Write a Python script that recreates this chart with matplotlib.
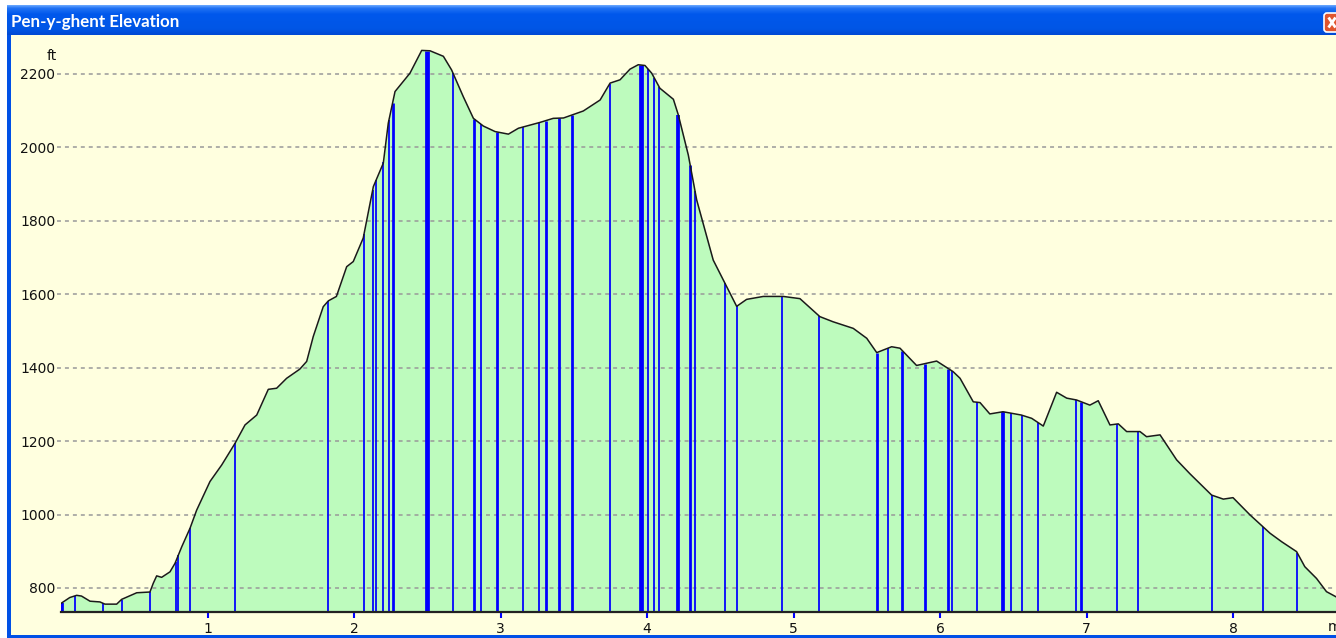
import numpy as np
import matplotlib
matplotlib.use("Agg")
import matplotlib.pyplot as plt
from matplotlib.patches import Rectangle, FancyBboxPatch
from matplotlib.colors import LinearSegmentedColormap

# ---------------- data ----------------
title = "Pen-y-ghent Elevation"
y_unit = "ft"
x_unit = "mi"

dist_mi = [0.0, 0.06, 0.107, 0.14, 0.198, 0.266, 0.30, 0.38, 0.414, 0.517, 0.607,
           0.63, 0.653, 0.687, 0.744, 0.778, 0.824, 0.881, 0.926, 1.017, 1.097,
           1.188, 1.256, 1.336, 1.415, 1.472, 1.54, 1.63, 1.677, 1.722, 1.79,
           1.825, 1.88, 1.95, 1.995, 2.063, 2.132, 2.2, 2.234, 2.28, 2.382,
           2.462, 2.519, 2.61, 2.666, 2.746, 2.815, 2.883, 2.963, 3.054, 3.122,
           3.27, 3.36, 3.43, 3.565, 3.68, 3.748, 3.816, 3.884, 3.94, 3.986,
           4.032, 4.088, 4.18, 4.214, 4.282, 4.339, 4.452, 4.532, 4.612, 4.68,
           4.794, 4.93, 5.044, 5.18, 5.27, 5.408, 5.5, 5.568, 5.67, 5.727,
           5.84, 5.977, 6.09, 6.137, 6.227, 6.273, 6.34, 6.43, 6.555, 6.626,
           6.705, 6.796, 6.865, 6.932, 7.023, 7.08, 7.16, 7.217, 7.274, 7.365,
           7.41, 7.502, 7.615, 7.706, 7.854, 7.934, 8.0, 8.116, 8.253, 8.332,
           8.434, 8.49, 8.57, 8.638, 8.703]
elev_ft = [758, 774, 780, 778, 764, 762, 756, 756, 769, 787, 789,
           813, 833, 829, 844, 867, 912, 963, 1012, 1090, 1135,
           1194, 1244, 1271, 1341, 1344, 1371, 1396, 1417, 1485, 1566,
           1582, 1594, 1675, 1689, 1753, 1893, 1957, 2066, 2152, 2202,
           2264, 2263, 2248, 2211, 2138, 2079, 2058, 2043, 2036, 2052,
           2068, 2079, 2080, 2099, 2129, 2175, 2184, 2213, 2225, 2223,
           2202, 2161, 2131, 2088, 1979, 1857, 1693, 1630, 1567, 1586,
           1594, 1594, 1588, 1539, 1525, 1507, 1480, 1441, 1457, 1453,
           1406, 1418, 1389, 1371, 1307, 1305, 1274, 1280, 1271, 1262,
           1241, 1333, 1317, 1312, 1298, 1310, 1244, 1247, 1226, 1226,
           1212, 1217, 1149, 1111, 1053, 1042, 1046, 999, 949, 926,
           899, 858, 826, 790, 776]

# waypoint markers (mile position, drawn width in pixels)
marker_mi = [0.005, 0.096, 0.289, 0.413, 0.608, 0.782, 0.802, 0.881, 1.188, 1.825,
             2.068, 2.128, 2.150, 2.201, 2.239, 2.263, 2.496, 2.674, 2.819, 2.867,
             2.974, 3.152, 3.265, 3.311, 3.401, 3.486, 3.744, 3.957, 4.010, 4.051,
             4.082, 4.214, 4.294, 4.328, 4.532, 4.614, 4.920, 5.176, 5.568, 5.647,
             5.743, 5.898, 6.057, 6.084, 6.251, 6.432, 6.487, 6.558, 6.669, 6.926,
             6.961, 7.210, 7.354, 7.857, 8.205, 8.439]
marker_px = [3, 1, 1, 1, 1, 1, 1, 1, 1, 1,
             1, 1, 1, 1, 1, 2, 4, 1, 2, 1,
             2, 1, 1, 2, 2, 2, 1, 4, 1, 1,
             1, 3, 2, 1, 1, 1, 1, 1, 2, 1,
             2, 2, 2, 1, 1, 3, 1, 1, 1, 1,
             2, 1, 1, 1, 1, 1]

y_ticks = [800, 1000, 1200, 1400, 1600, 1800, 2000, 2200]
x_ticks = [1, 2, 3, 4, 5, 6, 7, 8]

# ---------------- styling ----------------
W, H = 1336, 638
YELLOW = "#FFFFDF"
GREEN = "#BDFBBD"
BLUE = "#0000FF"
X_MAX = 8.703
Y_MIN, Y_MAX = 734.6, 2306

fig = plt.figure(figsize=(W / 100, H / 100), dpi=100)
fig.patch.set_facecolor("white")

# window frame drawn in pixel coordinates
bg = fig.add_axes([0, 0, 1, 1], zorder=0)
bg.set_xlim(0, W)
bg.set_ylim(H, 0)
bg.axis("off")
bg.add_patch(Rectangle((7, 5), W, H, facecolor="#0050E6", edgecolor="none"))
bg.add_patch(Rectangle((11, 35), W, 600, facecolor=YELLOW, edgecolor="none"))
cmap = LinearSegmentedColormap.from_list(
    "xp", [(0, "#6AA8FF"), (0.1, "#2172F4"), (0.3, "#0058EC"),
           (0.8, "#0056E6"), (1.0, "#0049D4")])
grad = np.linspace(0, 1, 64).reshape(-1, 1)
bg.imshow(grad, cmap=cmap, extent=(7, W, 35, 5), aspect="auto", zorder=1)
bg.text(11, 22, title, color="white", fontsize=12.2, fontweight="bold",
        family=["Lato", "DejaVu Sans"], va="center", ha="left", zorder=3)
bg.add_patch(FancyBboxPatch((1324, 13), 22, 19,
                            boxstyle="round,pad=0,rounding_size=3",
                            facecolor="#E0552E", edgecolor="white", lw=1.2,
                            zorder=3))
bg.plot([1328.5, 1335.5], [17.5, 27.5], color="white", lw=2.0, zorder=4,
        solid_capstyle="butt")
bg.plot([1328.5, 1335.5], [27.5, 17.5], color="white", lw=2.0, zorder=4,
        solid_capstyle="butt")

# plot area
left, right, top, bottom = 61, 1336, 35, 612
ax = fig.add_axes([left / W, 1 - bottom / H, (right - left) / W, (bottom - top) / H],
                  zorder=2)
ax.set_facecolor("none")
ax.set_xlim(0, X_MAX)
ax.set_ylim(Y_MIN, Y_MAX)

ax.fill_between(dist_mi, elev_ft, Y_MIN, color=GREEN, lw=0, zorder=1)
for yv in y_ticks:
    ax.plot([-0.025, X_MAX], [yv, yv], color="#999999", lw=1.1,
            linestyle=(0, (2.6, 2.6)), zorder=2, clip_on=False)

tops = np.interp(marker_mi, dist_mi, elev_ft)
ax.vlines(marker_mi, Y_MIN, tops, colors=BLUE,
          linewidths=[w * 0.72 + 0.55 for w in marker_px], zorder=3)
ax.plot(dist_mi, elev_ft, color="#1a1a1a", lw=1.1, zorder=4)

for s in ["left", "right", "top"]:
    ax.spines[s].set_visible(False)
ax.spines["bottom"].set_color("#222222")
ax.spines["bottom"].set_linewidth(1.6)
ax.spines["bottom"].set_zorder(5)

ax.set_yticks(y_ticks)
ax.set_yticklabels([str(v) for v in y_ticks])
ax.tick_params(axis="y", length=0, pad=4, labelsize=10, labelcolor="#111111")
ax.set_xticks(x_ticks)
ax.set_xticklabels([str(v) for v in x_ticks])
ax.tick_params(axis="x", length=4, width=1.5, color=BLUE, direction="out",
               pad=3, labelsize=10, labelcolor="#111111")

fig.text(52 / W, 1 - 56 / H, y_unit, ha="center", va="center",
         fontsize=10, color="#111111")
fig.text(1328 / W, 1 - 627 / H, x_unit, ha="left", va="center", fontsize=10,
         color="#111111")

fig.savefig("out.png", dpi=100, facecolor=fig.get_facecolor())
